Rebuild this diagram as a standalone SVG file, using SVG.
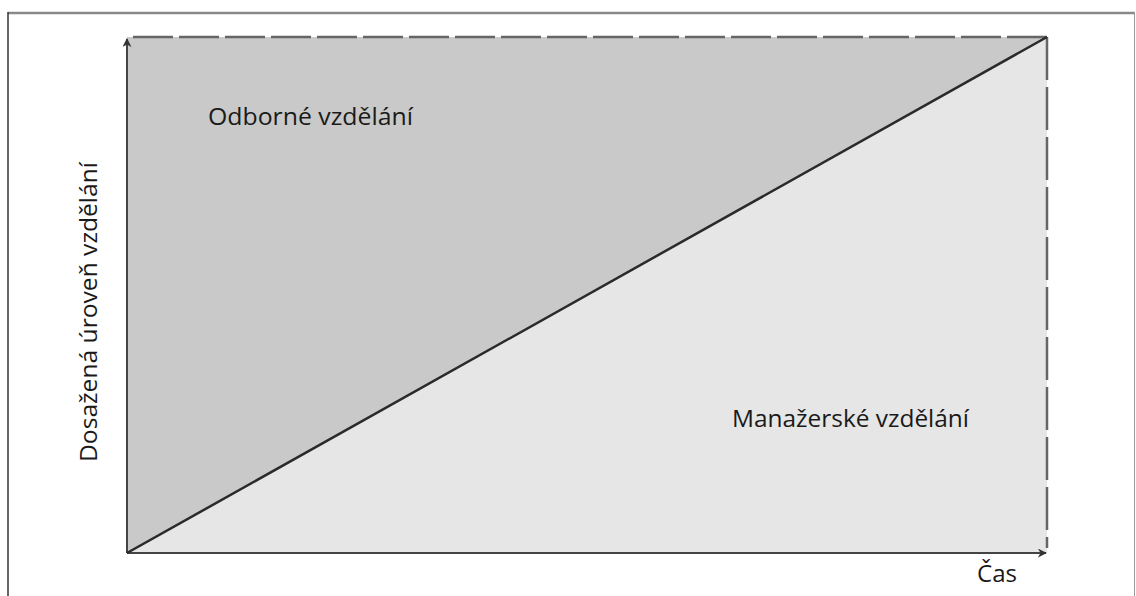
<svg xmlns="http://www.w3.org/2000/svg" width="1136" height="596" viewBox="0 0 1136 596">
<defs>
<style>
.lbl{font-family:"Open Sans","Liberation Sans",sans-serif;font-size:24px;fill:#1a1a1a}
.axis{stroke:#444;stroke-width:2;fill:none}
.dash{stroke:#666;stroke-width:2.5;fill:none}
</style>
<marker id="ah" viewBox="0 0 10 10" refX="9" refY="5" markerWidth="9" markerHeight="9" markerUnits="userSpaceOnUse" orient="auto">
<path d="M0,0 L10,5 L0,10 L3,5 Z" fill="#333"/>
</marker>
</defs>
<rect width="1136" height="596" fill="#fff"/>
<g id="frame">
<line x1="8" y1="13" x2="1135" y2="13" stroke="#8a8a8a" stroke-width="2.5"/>
<line x1="8" y1="12" x2="8" y2="596" stroke="#333" stroke-width="1.5"/>
<line x1="1134.5" y1="12" x2="1134.5" y2="596" stroke="#999" stroke-width="1"/>
</g>
<g id="regions">
<polygon id="upper" points="127,37 1047,37 127,553" fill="#c9c9c9"/>
<polygon id="lower" points="1047,37 1047,553 127,553" fill="#e6e6e6"/>
</g>
<g id="connectors">
<line class="dash" x1="133" y1="37" x2="1047" y2="37" stroke-dasharray="40 6"/>
<line class="dash" x1="1047" y1="37" x2="1047" y2="548" stroke-dasharray="43 7"/>
<line class="axis" x1="127" y1="553" x2="127" y2="39" marker-end="url(#ah)"/>
<line class="axis" x1="127" y1="553" x2="1046" y2="553" marker-end="url(#ah)"/>
<line x1="127" y1="553" x2="1047" y2="37" stroke="#2a2a2a" stroke-width="2.5"/>
</g>
<g id="labels">
<text class="lbl" x="208" y="125" textLength="205" lengthAdjust="spacingAndGlyphs">Odborné vzdělání</text>
<text class="lbl" x="732" y="427" textLength="237" lengthAdjust="spacingAndGlyphs">Manažerské vzdělání</text>
<text class="lbl" x="977" y="582" textLength="40" lengthAdjust="spacingAndGlyphs">Čas</text>
<text class="lbl" transform="translate(97,312) rotate(-90)" text-anchor="middle" textLength="300" lengthAdjust="spacingAndGlyphs">Dosažená úroveň vzdělání</text>
</g>
</svg>
